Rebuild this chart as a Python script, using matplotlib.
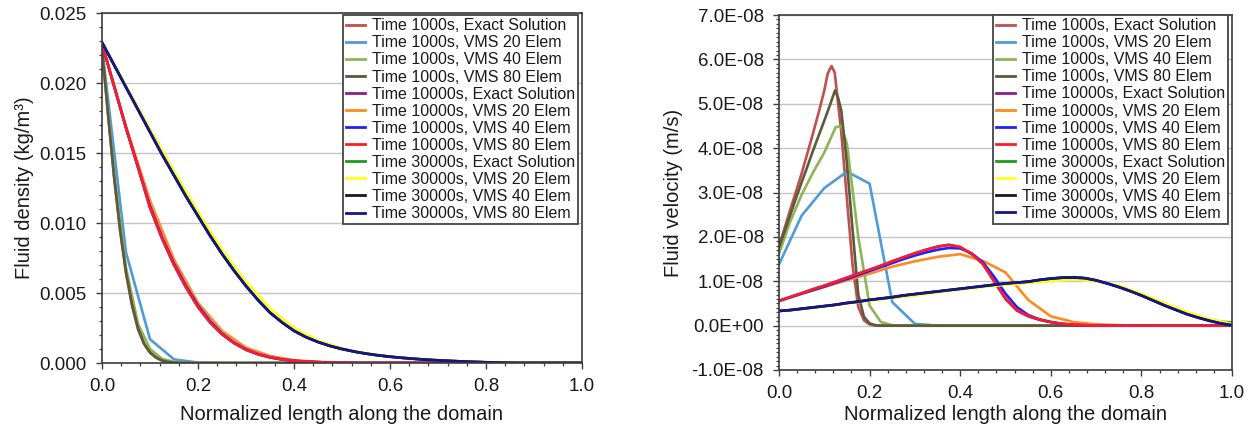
import matplotlib
matplotlib.use("Agg")
import matplotlib.pyplot as plt
from matplotlib.ticker import MultipleLocator, FuncFormatter

plt.rcParams['font.family'] = ['Liberation Sans', 'DejaVu Sans']

labels = ["Time 1000s, Exact Solution", "Time 1000s, VMS 20 Elem", "Time 1000s, VMS 40 Elem",
          "Time 1000s, VMS 80 Elem", "Time 10000s, Exact Solution", "Time 10000s, VMS 20 Elem",
          "Time 10000s, VMS 40 Elem", "Time 10000s, VMS 80 Elem", "Time 30000s, Exact Solution",
          "Time 30000s, VMS 20 Elem", "Time 30000s, VMS 40 Elem", "Time 30000s, VMS 80 Elem"]
colors = ["#C0504D", "#4F9BD9", "#8DB555", "#5C5A3A", "#8B1E8B", "#FF8A1E",
          "#2020FF", "#FF1A2A", "#1E9A1E", "#FFFF1A", "#1A1A1A", "#14148C"]

# ---------------- Left: fluid density (kg/m3) ----------------
xd_1000f = [0, 0.0125, 0.025, 0.0375, 0.05, 0.0625, 0.075, 0.0875, 0.1, 0.1125, 0.125, 0.1375, 0.15, 0.175, 0.2, 1.0]
rho_1000_exact = [0.0225, 0.0178, 0.0133, 0.0095, 0.0064, 0.0041, 0.0024, 0.00136, 0.00073, 0.00038, 0.00017, 0.00007, 0.00003, 0.00001, 0, 0]
rho_1000_v80 = [0.0225, 0.0178, 0.0134, 0.0096, 0.0065, 0.0042, 0.0025, 0.0014, 0.00076, 0.0004, 0.00018, 0.00008, 0.00003, 0.00001, 0, 0]
xd_1000_40 = [0, 0.025, 0.05, 0.075, 0.1, 0.125, 0.15, 0.175, 0.2, 1.0]
rho_1000_v40 = [0.0225, 0.0136, 0.0068, 0.0028, 0.0010, 0.0003, 0.00008, 0.00002, 0, 0]
xd_1000_20 = [0, 0.05, 0.1, 0.15, 0.2, 0.25, 1.0]
rho_1000_v20 = [0.0225, 0.0079, 0.0017, 0.00026, 0.00003, 0, 0]

xd_10000 = [0, 0.025, 0.05, 0.075, 0.1, 0.125, 0.15, 0.175, 0.2, 0.225, 0.25, 0.275, 0.3, 0.325,
            0.35, 0.375, 0.4, 0.425, 0.45, 0.475, 0.5, 0.525, 0.55, 1.0]
rho_10000_exact = [0.0228, 0.0198, 0.0168, 0.0140, 0.0111, 0.0089, 0.0070, 0.0054, 0.0040, 0.0029,
                   0.00205, 0.00142, 0.00094, 0.00062, 0.0004, 0.00025, 0.00016, 0.0001, 0.00006,
                   0.00003, 0.00002, 0.00001, 0, 0]
rho_10000_v40 = [0.0228, 0.0198, 0.0168, 0.0140, 0.0112, 0.0090, 0.0071, 0.0055, 0.0041, 0.0030,
                 0.0021, 0.00146, 0.00097, 0.00064, 0.00041, 0.00026, 0.00016, 0.0001, 0.00006,
                 0.00003, 0.00002, 0.00001, 0, 0]
rho_10000_v80 = [0.0228, 0.0198, 0.0168, 0.0140, 0.0111, 0.0089, 0.0070, 0.0054, 0.0040, 0.0029,
                 0.00205, 0.00142, 0.00095, 0.00063, 0.0004, 0.00025, 0.00016, 0.0001, 0.00006,
                 0.00003, 0.00002, 0.00001, 0, 0]
xd_10000_20 = [0, 0.05, 0.1, 0.15, 0.2, 0.25, 0.3, 0.35, 0.4, 0.45, 0.5, 0.55, 0.6, 1.0]
rho_10000_v20 = [0.0228, 0.0169, 0.0116, 0.0074, 0.0043, 0.0023, 0.0011, 0.0005, 0.0002, 0.00008, 0.00003, 0.00001, 0, 0]

xd_30000 = [0, 0.025, 0.05, 0.075, 0.1, 0.125, 0.15, 0.175, 0.2, 0.225, 0.25, 0.275, 0.3, 0.325,
            0.35, 0.375, 0.4, 0.425, 0.45, 0.475, 0.5, 0.525, 0.55, 0.575, 0.6, 0.625, 0.65, 0.675,
            0.7, 0.725, 0.75, 0.775, 0.8, 0.825, 0.85, 0.875, 1.0]
rho_30000_exact = [0.0229, 0.0213, 0.0197, 0.0181, 0.0165, 0.0149, 0.0134, 0.0119, 0.0105, 0.0091,
                   0.0078, 0.0066, 0.0055, 0.0045, 0.0036, 0.0029, 0.0023, 0.00185, 0.0015, 0.00122,
                   0.0010, 0.00082, 0.00067, 0.00055, 0.00045, 0.00037, 0.0003, 0.00024, 0.00019,
                   0.00015, 0.00011, 0.00008, 0.00005, 0.00003, 0.00001, 0, 0]
rho_30000_v40 = [0.0229, 0.0213, 0.0197, 0.0181, 0.0165, 0.0149, 0.0134, 0.0119, 0.0105, 0.0091,
                 0.0078, 0.0066, 0.0055, 0.0045, 0.0036, 0.0029, 0.0023, 0.00185, 0.0015, 0.00122,
                 0.0010, 0.00082, 0.00067, 0.00055, 0.00045, 0.00037, 0.0003, 0.00024, 0.00019,
                 0.00015, 0.00011, 0.00008, 0.00005, 0.00003, 0.00001, 0, 0]
rho_30000_v80 = [0.0229, 0.0213, 0.0197, 0.0181, 0.0165, 0.0149, 0.0134, 0.0119, 0.0105, 0.0091,
                 0.0078, 0.0066, 0.0055, 0.0045, 0.0036, 0.0029, 0.0023, 0.00185, 0.0015, 0.00122,
                 0.0010, 0.00082, 0.00067, 0.00055, 0.00045, 0.00037, 0.0003, 0.00024, 0.00019,
                 0.00015, 0.00011, 0.00008, 0.00005, 0.00003, 0.00001, 0, 0]
xd_30000_20 = [0, 0.05, 0.1, 0.15, 0.2, 0.25, 0.3, 0.35, 0.4, 0.45, 0.5, 0.55, 0.6, 0.65, 0.7,
               0.75, 0.8, 0.85, 0.9, 0.95, 1.0]
rho_30000_v20 = [0.0229, 0.0198, 0.0167, 0.0137, 0.0108, 0.0081, 0.0058, 0.0039, 0.0025, 0.0016,
                 0.00105, 0.0007, 0.00047, 0.00031, 0.0002, 0.00012, 0.00006, 0.00002, 0, 0, 0]

density_series = [
    (xd_1000f, rho_1000_exact), (xd_1000_20, rho_1000_v20), (xd_1000_40, rho_1000_v40), (xd_1000f, rho_1000_v80),
    (xd_10000, rho_10000_exact), (xd_10000_20, rho_10000_v20), (xd_10000, rho_10000_v40), (xd_10000, rho_10000_v80),
    (xd_30000, rho_30000_exact), (xd_30000_20, rho_30000_v20), (xd_30000, rho_30000_v40), (xd_30000, rho_30000_v80),
]

# ---------------- Right: fluid velocity (units of 1E-08 m/s) ----------------
VEL_UNIT = 1e-8
xv_1000f = [0, 0.0125, 0.025, 0.0375, 0.05, 0.0625, 0.075, 0.0875, 0.1, 0.1075, 0.116, 0.123, 0.1375,
            0.15, 0.1625, 0.175, 0.1875, 0.2, 0.2125, 1.0]
u_1000_exact = [1.80, 2.20, 2.62, 3.02, 3.43, 3.88, 4.33, 4.80, 5.30, 5.68, 5.85, 5.70, 4.35,
                2.85, 1.35, 0.42, 0.12, 0.03, 0, 0]
xv_1000_80 = [0, 0.0125, 0.025, 0.0375, 0.05, 0.0625, 0.075, 0.0875, 0.1, 0.1125, 0.1236, 0.13, 0.1375,
              0.15, 0.1625, 0.175, 0.1875, 0.2, 0.2125, 0.225, 1.0]
u_1000_v80 = [1.76, 2.13, 2.50, 2.87, 3.23, 3.58, 3.94, 4.28, 4.62, 4.97, 5.30, 5.15, 4.85,
              3.65, 2.15, 0.70, 0.20, 0.05, 0.01, 0, 0]
xv_1000_40 = [0, 0.025, 0.05, 0.075, 0.1, 0.125, 0.1375, 0.15, 0.175, 0.2, 0.225, 0.25, 0.275, 1.0]
u_1000_v40 = [1.62, 2.35, 2.95, 3.45, 3.90, 4.47, 4.50, 4.10, 2.00, 0.45, 0.08, 0.01, 0, 0]
xv_1000_20 = [0, 0.05, 0.1, 0.15, 0.2, 0.25, 0.3, 0.35, 1.0]
u_1000_v20 = [1.38, 2.48, 3.10, 3.47, 3.20, 0.53, 0.04, 0, 0]

xv_10000 = [0, 0.025, 0.05, 0.075, 0.1, 0.125, 0.15, 0.175, 0.2, 0.225, 0.25, 0.275, 0.3, 0.325,
            0.35, 0.375, 0.4, 0.425, 0.45, 0.475, 0.5, 0.525, 0.55, 0.575, 0.6, 0.625, 0.65, 0.675, 0.7, 1.0]
u_10000_exact = [0.56, 0.645, 0.73, 0.82, 0.90, 0.99, 1.08, 1.17, 1.26, 1.35, 1.45, 1.54, 1.63, 1.71,
                 1.78, 1.82, 1.77, 1.62, 1.39, 1.00, 0.60, 0.34, 0.21, 0.13, 0.08, 0.04, 0.02, 0.01, 0, 0]
u_10000_v40 = [0.56, 0.64, 0.72, 0.80, 0.88, 0.97, 1.05, 1.14, 1.23, 1.32, 1.41, 1.50, 1.58, 1.65,
               1.71, 1.75, 1.74, 1.63, 1.43, 1.10, 0.72, 0.42, 0.24, 0.14, 0.08, 0.04, 0.02, 0.01, 0, 0]
u_10000_v80 = [0.56, 0.645, 0.73, 0.82, 0.90, 0.99, 1.08, 1.17, 1.26, 1.35, 1.45, 1.54, 1.63, 1.71,
               1.78, 1.82, 1.77, 1.62, 1.39, 1.00, 0.62, 0.35, 0.22, 0.14, 0.08, 0.04, 0.02, 0.01, 0, 0]
xv_10000_20 = [0, 0.05, 0.1, 0.15, 0.2, 0.25, 0.3, 0.35, 0.4, 0.45, 0.5, 0.55, 0.6, 0.65, 0.7, 0.75, 0.8, 1.0]
u_10000_v20 = [0.55, 0.72, 0.87, 1.02, 1.17, 1.33, 1.45, 1.55, 1.61, 1.46, 1.20, 0.58, 0.21, 0.08, 0.03, 0.01, 0, 0]

xv_30000 = [0, 0.025, 0.05, 0.075, 0.1, 0.125, 0.15, 0.175, 0.2, 0.225, 0.25, 0.275, 0.3, 0.325,
            0.35, 0.375, 0.4, 0.425, 0.45, 0.475, 0.5, 0.525, 0.55, 0.575, 0.6, 0.625, 0.65, 0.675,
            0.7, 0.725, 0.75, 0.775, 0.8, 0.825, 0.85, 0.875, 0.9, 0.925, 0.95, 0.975, 1.0]
u_30000_exact = [0.33, 0.35, 0.38, 0.41, 0.44, 0.47, 0.51, 0.54, 0.58, 0.61, 0.64, 0.68, 0.71, 0.74,
                 0.77, 0.80, 0.83, 0.86, 0.89, 0.92, 0.95, 0.97, 0.99, 1.03, 1.06, 1.08, 1.085, 1.07,
                 1.02, 0.95, 0.87, 0.78, 0.68, 0.57, 0.46, 0.36, 0.27, 0.19, 0.13, 0.09, 0.07]
u_30000_v40 = [0.33, 0.35, 0.38, 0.41, 0.44, 0.47, 0.51, 0.54, 0.58, 0.61, 0.64, 0.68, 0.71, 0.74,
               0.77, 0.80, 0.83, 0.86, 0.89, 0.92, 0.95, 0.97, 0.99, 1.03, 1.06, 1.08, 1.085, 1.07,
               1.02, 0.95, 0.87, 0.78, 0.68, 0.57, 0.46, 0.36, 0.26, 0.18, 0.11, 0.05, 0.01]
u_30000_v80 = [0.33, 0.35, 0.38, 0.41, 0.44, 0.47, 0.51, 0.54, 0.58, 0.61, 0.64, 0.68, 0.71, 0.74,
               0.77, 0.80, 0.83, 0.86, 0.89, 0.92, 0.95, 0.97, 0.99, 1.03, 1.06, 1.08, 1.085, 1.07,
               1.02, 0.95, 0.87, 0.78, 0.68, 0.57, 0.46, 0.36, 0.26, 0.18, 0.11, 0.05, 0.01]
xv_30000_20 = [0, 0.05, 0.1, 0.15, 0.2, 0.25, 0.3, 0.35, 0.4, 0.45, 0.5, 0.55, 0.6, 0.65, 0.7,
               0.75, 0.8, 0.85, 0.9, 0.95, 1.0]
u_30000_v20 = [0.33, 0.37, 0.43, 0.50, 0.56, 0.62, 0.68, 0.75, 0.81, 0.87, 0.92, 0.96, 1.00, 1.04, 1.00,
               0.90, 0.72, 0.51, 0.31, 0.15, 0.04]

velocity_series = [
    (xv_1000f, u_1000_exact), (xv_1000_20, u_1000_v20), (xv_1000_40, u_1000_v40), (xv_1000_80, u_1000_v80),
    (xv_10000, u_10000_exact), (xv_10000_20, u_10000_v20), (xv_10000, u_10000_v40), (xv_10000, u_10000_v80),
    (xv_30000, u_30000_exact), (xv_30000_20, u_30000_v20), (xv_30000, u_30000_v40), (xv_30000, u_30000_v80),
]

TEXT = "#1a1a1a"
SPINE = "#3c3c3c"
GRID = "#c4c4c4"

fig = plt.figure(figsize=(12.55, 4.34), dpi=100)
ax1 = fig.add_axes([102 / 1255, 71 / 434, 480 / 1255, 350 / 434])
ax2 = fig.add_axes([779 / 1255, 64 / 434, 453 / 1255, 355 / 434])


def style(ax):
    for s in ax.spines.values():
        s.set_color(SPINE)
        s.set_linewidth(1.2)
    ax.tick_params(which='major', direction='out', length=4, width=1, color=SPINE,
                   labelsize=13.5, labelcolor=TEXT, pad=7)
    ax.tick_params(which='minor', direction='out', length=2.2, width=0.9, color=SPINE)
    ax.tick_params(axis='x', which='both', top=False)
    ax.tick_params(axis='y', which='both', right=False)
    ax.grid(axis='y', which='major', color=GRID, linewidth=1)
    ax.set_axisbelow(True)
    ax.set_xlim(0, 1)
    ax.xaxis.set_major_locator(MultipleLocator(0.2))
    ax.xaxis.set_minor_locator(MultipleLocator(0.04))
    ax.xaxis.set_major_formatter(FuncFormatter(lambda v, p: f"{v:.1f}"))
    ax.set_xlabel("Normalized length along the domain", fontsize=14.5, color=TEXT)


style(ax1)
style(ax2)

for (xs, ys), c, lab in zip(density_series, colors, labels):
    ax1.plot(xs, ys, color=c, lw=1.9, label=lab, solid_joinstyle='round')
ax1.set_ylim(0, 0.025)
ax1.yaxis.set_major_locator(MultipleLocator(0.005))
ax1.yaxis.set_minor_locator(MultipleLocator(0.001))
ax1.yaxis.set_major_formatter(FuncFormatter(lambda v, p: f"{v:.3f}"))
ax1.set_ylabel("Fluid density (kg/m³)", fontsize=14.5, color=TEXT)
ax1.yaxis.set_label_coords(-0.142, 0.5)
ax1.xaxis.set_label_coords(0.5, -0.12)

for (xs, ys), c, lab in zip(velocity_series, colors, labels):
    ax2.plot(xs, [v * VEL_UNIT for v in ys], color=c, lw=1.9, label=lab, solid_joinstyle='round')
ax2.set_ylim(-1e-8, 7e-8)
ax2.yaxis.set_major_locator(MultipleLocator(1e-8))
ax2.yaxis.set_minor_locator(MultipleLocator(1e-9))
ax2.yaxis.set_major_formatter(FuncFormatter(lambda v, p: f"{v:.1E}"))
ax2.yaxis.get_offset_text().set_visible(False)
ax2.set_ylabel("Fluid velocity (m/s)", fontsize=14.5, color=TEXT)
ax2.yaxis.set_label_coords(-0.212, 0.5)
ax2.xaxis.set_label_coords(0.5, -0.1)

for ax, anchor in ((ax1, (0.992, 0.994)), (ax2, (0.991, 1.0))):
    leg = ax.legend(loc='upper right', bbox_to_anchor=anchor, borderaxespad=0,
                    fontsize=11.5, labelspacing=0.13, handlelength=1.2, handletextpad=0.4,
                    borderpad=0.2, fancybox=False, framealpha=1, edgecolor='#444444')
    leg.get_frame().set_linewidth(1.3)
    for t in leg.get_texts():
        t.set_color(TEXT)
    for h in leg.get_lines():
        h.set_linewidth(2.0)

fig.savefig("out.png", dpi=100)
